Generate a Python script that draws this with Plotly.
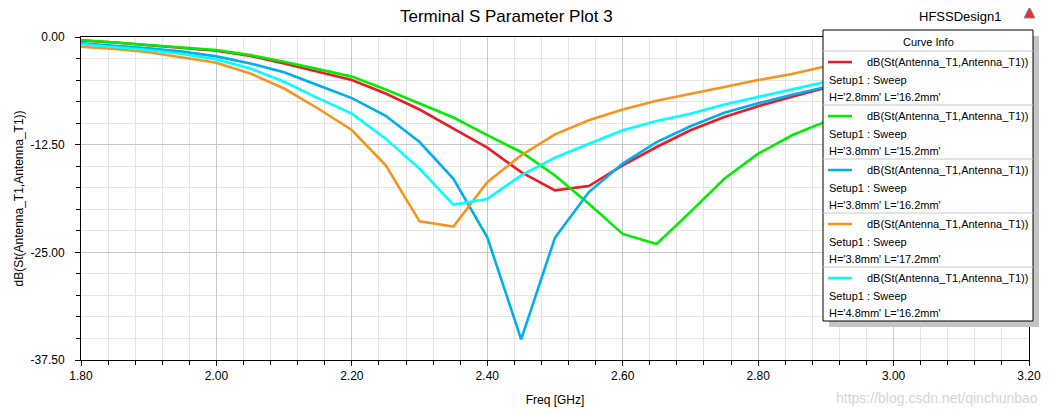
import plotly.graph_objects as go

# sweep frequencies (GHz) and S11 curves (dB)
freq = [1.80, 1.85, 1.90, 1.95, 2.00, 2.05, 2.10, 2.15, 2.20, 2.25, 2.30, 2.35, 2.40, 2.45,
        2.50, 2.55, 2.60, 2.65, 2.70, 2.75, 2.80, 2.85, 2.90, 2.95, 3.00, 3.05, 3.10, 3.15, 3.20]

s11_h28_l162 = [-0.40, -0.63, -0.95, -1.25, -1.60, -2.20, -3.07, -4.04, -5.00, -6.56, -8.42, -10.64,
                -12.85, -15.68, -17.80, -17.30, -14.90, -12.77, -10.83, -9.28, -8.04, -6.95, -5.90,
                -5.20, -4.60, -4.10, -3.70, -3.30, -3.00]
s11_h38_l152 = [-0.35, -0.62, -0.93, -1.20, -1.51, -2.10, -2.87, -3.73, -4.60, -6.10, -7.70, -9.35,
                -11.40, -13.35, -16.07, -19.37, -22.86, -24.03, -20.30, -16.46, -13.55, -11.41, -9.80,
                -8.40, -7.40, -6.50, -5.80, -5.20, -4.70]
s11_h38_l162 = [-0.73, -1.01, -1.32, -1.70, -2.25, -3.07, -4.10, -5.60, -7.10, -9.15, -12.19, -16.46,
                -23.25, -35.10, -23.30, -18.00, -14.70, -12.20, -10.36, -8.80, -7.70, -6.70, -5.80,
                -5.00, -4.50, -4.00, -3.60, -3.30, -3.00]
s11_h38_l172 = [-1.13, -1.40, -1.78, -2.37, -3.00, -4.23, -5.98, -8.30, -10.80, -14.90, -21.40, -22.00,
                -16.85, -13.74, -11.30, -9.67, -8.42, -7.40, -6.56, -5.80, -5.00, -4.30, -3.40,
                -3.00, -2.70, -2.45, -2.20, -2.00, -1.85]
s11_h48_l162 = [-0.85, -1.16, -1.51, -1.98, -2.60, -3.65, -5.20, -7.10, -8.90, -11.80, -15.30, -19.45,
                -18.80, -16.07, -14.00, -12.40, -10.83, -9.74, -8.90, -7.84, -6.95, -6.10, -5.20,
                -4.60, -4.10, -3.70, -3.40, -3.10, -2.80]

series = [s11_h28_l162, s11_h38_l152, s11_h38_l162, s11_h38_l172, s11_h48_l162]
variants = ["H='2.8mm' L='16.2mm'", "H='3.8mm' L='15.2mm'", "H='3.8mm' L='16.2mm'",
            "H='3.8mm' L='17.2mm'", "H='4.8mm' L='16.2mm'"]
colors = ["#ED1C24", "#00EE00", "#00AEEF", "#F7941D", "#00FFFF"]

x_ticks = [1.80, 2.00, 2.20, 2.40, 2.60, 2.80, 3.00, 3.20]
y_ticks = [0.0, -12.5, -25.0, -37.5]

FONT = "Liberation Sans, Arial, sans-serif"

# plot area in window pixels (1051x413); the page body adds an 8px margin
OFF = 8
L, T, W, H = 81, 37, 948, 323


def px(x):
    return (x - L) / W


def py(y):
    return (T + H - y) / H


def label(x, y, text, size=11, color="black", xanchor="center"):
    return dict(x=px(x), y=py(y), xref="paper", yref="paper", text=text, showarrow=False,
                xanchor=xanchor, yanchor="middle",
                font=dict(size=size, color=color, family=FONT))


fig = go.Figure()
for vals, col in zip(series, colors):
    fig.add_trace(go.Scatter(x=freq, y=vals, mode="lines", showlegend=False,
                             line=dict(color=col, width=2.6), hoverinfo="x+y"))

shapes = []
annots = []

# "Curve Info" box with drop shadow
bx0, bx1, by0, by1 = 823, 1033, 30, 321
shapes.append(dict(type="rect", xref="paper", yref="paper", x0=px(bx0 + 6), x1=px(bx1 + 6),
                   y0=py(by1 + 6), y1=py(by0 + 6), fillcolor="#c4c4c4", line=dict(width=0)))
shapes.append(dict(type="rect", xref="paper", yref="paper", x0=px(bx0), x1=px(bx1),
                   y0=py(by1), y1=py(by0), fillcolor="white", line=dict(color="black", width=1)))
annots.append(label(928, 42, "Curve Info"))
for i, (lab, col) in enumerate(zip(variants, colors)):
    top = 51 + 54 * i
    shapes.append(dict(type="line", xref="paper", yref="paper", x0=px(bx0), x1=px(bx1),
                       y0=py(top), y1=py(top), line=dict(color="#c8c8c8", width=1)))
    shapes.append(dict(type="line", xref="paper", yref="paper", x0=px(828), x1=px(852),
                       y0=py(top + 11), y1=py(top + 11), line=dict(color=col, width=2.5)))
    annots.append(label(1030, top + 11, "dB(St(Antenna_T1,Antenna_T1))", xanchor="right"))
    annots.append(label(827, top + 29, "Setup1 : Sweep", xanchor="left"))
    annots.append(label(827, top + 46, lab, xanchor="left"))

# titles, design name, small logo and watermark
annots.append(label(506, 17, "Terminal S Parameter Plot 3", size=17))
annots.append(label(1003, 17, "HFSSDesign1", size=13, xanchor="right"))
annots.append(label(1040, 398, "https://blog.csdn.net/qinchunbao", size=14, color="#d4d4d4",
                    xanchor="right"))
shapes.append(dict(type="path", xref="paper", yref="paper",
                   path="M {} {} L {} {} L {} {} Z".format(px(1024), py(18), px(1035), py(18),
                                                             px(1029.5), py(7)),
                   fillcolor="#e23030", line=dict(color="#909090", width=1)))

fig.update_layout(
    width=1051 - OFF, height=413 - OFF,
    margin=dict(l=L - OFF, r=1051 - L - W, t=T - OFF, b=413 - T - H),
    paper_bgcolor="white", plot_bgcolor="white",
    font=dict(family=FONT, size=12, color="black"),
    shapes=shapes, annotations=annots,
    hovermode="closest",
)
fig.update_xaxes(
    range=[1.8, 3.2], tickvals=x_ticks, ticktext=["%.2f" % v for v in x_ticks],
    showline=True, linecolor="black", linewidth=1, mirror=True,
    ticks="outside", ticklen=5, tickcolor="black",
    showgrid=True, gridcolor="#c8c8c8", gridwidth=1, zeroline=False,
    minor=dict(dtick=0.04, tick0=1.8, showgrid=True, gridcolor="#e4e4e4",
               ticks="outside", ticklen=4, tickcolor="black"),
    title=dict(text="Freq [GHz]", font=dict(size=12), standoff=13),
    tickfont=dict(size=12), automargin=False,
)
fig.update_yaxes(
    range=[-37.5, 0], tickvals=y_ticks, ticktext=["%.2f" % v for v in y_ticks],
    showline=True, linecolor="black", linewidth=1, mirror=True,
    ticks="outside", ticklen=5, tickcolor="black", ticklabelstandoff=8,
    showgrid=True, gridcolor="#c8c8c8", gridwidth=1, zeroline=False,
    minor=dict(dtick=2.5, tick0=0, showgrid=True, gridcolor="#e4e4e4",
               ticks="outside", ticklen=4, tickcolor="black"),
    title=dict(text="dB(St(Antenna_T1,Antenna_T1))", font=dict(size=12), standoff=4),
    tickfont=dict(size=12), automargin=False,
)

fig.write_html("out.html")
